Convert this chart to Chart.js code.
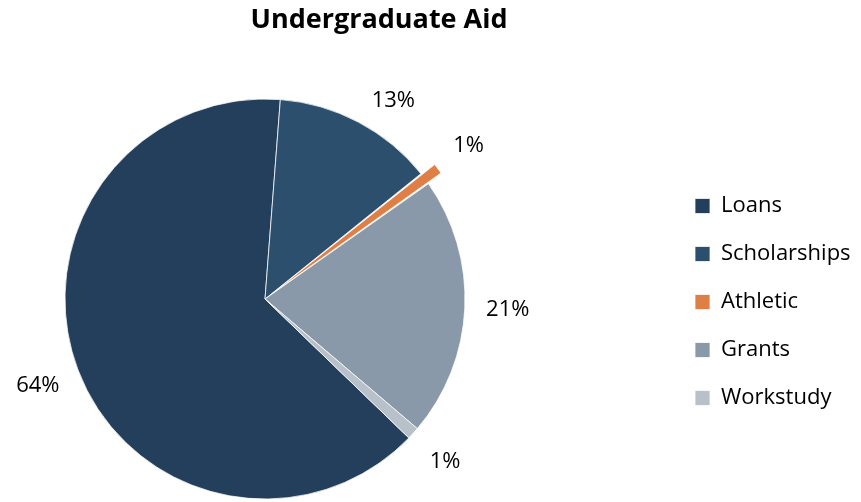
<!DOCTYPE html>
<html>
<head>
<meta charset="utf-8">
<script src="https://cdn.jsdelivr.net/npm/chart.js@4"></script>
<style>
  body { margin: 0; background: #fff; }
  #aidChart { display: block; }
</style>
</head>
<body>
<canvas id="aidChart" width="861" height="502"></canvas>
<script>
const aidLabels = ['Loans', 'Scholarships', 'Athletic', 'Grants', 'Workstudy'];
const aidShares = [64, 13, 1, 21, 1];
const aidColors = ['#243f5c', '#2d4f6e', '#df7f46', '#8a99aa', '#b8c1ca'];
const aidOffsets = [0, 0, 34, 0, 0];

// puts the pie, title and legend where they belong instead of the default stacking
const placeBoxes = {
    id: 'placeBoxes',
    afterLayout(chart, args, opts) {
        const a = opts.pie;
        Object.assign(chart.chartArea, {
            left: a.x - a.r, right: a.x + a.r, top: a.y - a.r, bottom: a.y + a.r,
            width: a.r * 2, height: a.r * 2
        });
        const t = chart.titleBlock;
        if (t) {
            t.left = opts.titleX - 300;
            t.right = opts.titleX + 300;
            t.width = 600;
        }
        const lg = chart.legend;
        if (lg) {
            const w = lg.width, h = lg.height;
            lg.left = opts.legend.x;
            lg.right = lg.left + w;
            lg.top = opts.legend.y;
            lg.bottom = lg.top + h;
        }
    }
};

// percentage text outside each slice
const sliceLabels = {
    id: 'sliceLabels',
    afterDatasetsDraw(chart, args, opts) {
        const ctx = chart.ctx;
        const ds = chart.data.datasets[0];
        const meta = chart.getDatasetMeta(0);
        ctx.save();
        ctx.font = opts.font;
        ctx.fillStyle = opts.color;
        ctx.textAlign = 'center';
        ctx.textBaseline = 'middle';
        meta.data.forEach((arc, i) => {
            const p = arc.getProps(['x', 'y', 'startAngle', 'endAngle', 'outerRadius'], true);
            const mid = (p.startAngle + p.endAngle) / 2;
            const dist = p.outerRadius + opts.distance + (ds.offset[i] || 0) * 0.35;
            const nudge = opts.nudge[i] || [0, 0];
            ctx.fillText(Math.round(ds.data[i]) + '%',
                p.x + Math.cos(mid) * dist + nudge[0],
                p.y + Math.sin(mid) * dist + nudge[1]);
        });
        ctx.restore();
    }
};

new Chart(document.getElementById('aidChart'), {
    type: 'pie',
    data: {
        labels: aidLabels,
        datasets: [{
            data: aidShares,
            backgroundColor: aidColors,
            borderColor: '#ffffff',
            borderWidth: 0.75,
            offset: aidOffsets,
            radius: 200
        }]
    },
    options: {
        responsive: false,
        animation: false,
        rotation: 134,
        plugins: {
            title: {
                display: true,
                text: 'Undergraduate Aid',
                color: '#000',
                font: { family: 'Open Sans', size: 27, weight: 'bold' },
                padding: { top: 4, bottom: 10 }
            },
            legend: {
                position: 'right',
                align: 'start',
                labels: {
                    boxWidth: 15,
                    boxHeight: 15,
                    padding: 26,
                    color: '#000',
                    font: { family: 'Open Sans', size: 22 }
                }
            },
            tooltip: { enabled: false },
            placeBoxes: {
                pie: { x: 265, y: 299, r: 200 },
                titleX: 379,
                legend: { x: 669, y: 169 }
            },
            sliceLabels: {
                font: '22px "Open Sans"',
                color: '#000',
                distance: 43,
                nudge: { 1: [15, 17] }
            }
        }
    },
    plugins: [placeBoxes, sliceLabels]
});
</script>
</body>
</html>
